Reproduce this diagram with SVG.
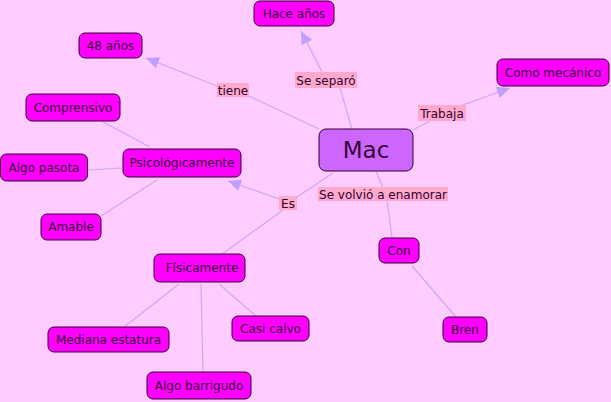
<svg xmlns="http://www.w3.org/2000/svg" width="611" height="402" viewBox="0 0 611 402">
<style>
.n rect{fill:#FF00FF;stroke:#330033;stroke-width:1}
.n text,.l text{font-family:"DejaVu Sans",Verdana,sans-serif;font-size:12px;fill:#330033;text-anchor:middle}
.l rect{fill:#FFAACC}
.c line{stroke:#C8AAF5;stroke-width:1.2;fill:none}
</style>
<defs>
<marker id="ar" markerUnits="userSpaceOnUse" markerWidth="14" markerHeight="12" refX="13" refY="6" orient="auto"><path d="M0,0 L13,6 L0,12 z" fill="#C0A0FF"/></marker>
</defs>
<rect width="611" height="402" fill="#FFCCFF"/>
<g id="connectors" class="c">
<line x1="352" y1="129" x2="340" y2="88"/>
<line x1="322" y1="72" x2="301" y2="31" marker-end="url(#ar)"/>
<line x1="319" y1="129" x2="249" y2="96"/>
<line x1="217" y1="86" x2="146" y2="58" marker-end="url(#ar)"/>
<line x1="413" y1="130" x2="430" y2="121"/>
<line x1="460" y1="106" x2="510" y2="88" marker-end="url(#ar)"/>
<line x1="376" y1="171" x2="383" y2="188"/>
<line x1="387" y1="200" x2="392" y2="238"/>
<line x1="412" y1="266" x2="456" y2="317"/>
<line x1="333" y1="173" x2="297" y2="197"/>
<line x1="279" y1="199" x2="228" y2="181" marker-end="url(#ar)"/>
<line x1="283" y1="210" x2="222" y2="254"/>
<line x1="150" y1="147" x2="103" y2="122"/>
<line x1="122" y1="168" x2="88" y2="170"/>
<line x1="157" y1="180" x2="101" y2="216"/>
<line x1="179" y1="284" x2="124" y2="327"/>
<line x1="201" y1="284" x2="203" y2="372"/>
<line x1="219" y1="284" x2="256" y2="316"/>
</g>
<g id="lbl-seseparo" class="l"><rect x="295" y="72" width="62" height="16"/><text x="326" y="84.5">Se separó</text></g>
<g id="lbl-tiene" class="l"><rect x="217" y="83" width="32" height="14"/><text x="233" y="94.5">tiene</text></g>
<g id="lbl-trabaja" class="l"><rect x="418" y="105" width="48" height="16"/><text x="442" y="117.5">Trabaja</text></g>
<g id="lbl-sevolvio" class="l"><rect x="318" y="187" width="130" height="14"/><text x="383" y="198.5">Se volvió a enamorar</text></g>
<g id="lbl-es" class="l"><rect x="279" y="196" width="18" height="14"/><text x="288" y="207.5">Es</text></g>
<g id="mac" class="n"><rect x="319" y="129" width="94" height="42" rx="7" style="fill:#CC66FF"/><text x="366" y="158" style="font-size:23px">Mac</text></g>
<g id="haceanos" class="n"><rect x="254" y="1" width="80" height="25" rx="6"/><text x="294" y="18">Hace años</text></g>
<g id="48anos" class="n"><rect x="79" y="33" width="63" height="25" rx="6"/><text x="110.5" y="50">48 años</text></g>
<g id="comomecanico" class="n"><rect x="497" y="59" width="112" height="27" rx="6"/><text x="553" y="77">Como mecánico</text></g>
<g id="comprensivo" class="n"><rect x="26" y="94" width="94" height="27" rx="6"/><text x="73" y="112">Comprensivo</text></g>
<g id="algopasota" class="n"><rect x="0.5" y="154" width="87" height="27" rx="6"/><text x="44" y="172">Algo pasota</text></g>
<g id="psicologicamente" class="n"><rect x="123" y="149" width="118" height="28" rx="6"/><text x="182" y="167">Psicológicamente</text></g>
<g id="amable" class="n"><rect x="41" y="214" width="60" height="26" rx="6"/><text x="71" y="231">Amable</text></g>
<g id="fisicamente" class="n"><rect x="154" y="254" width="91" height="28" rx="6"/><text x="202" y="272">Físicamente</text></g>
<g id="medianaestatura" class="n"><rect x="48" y="327" width="121" height="25" rx="6"/><text x="108.5" y="344">Mediana estatura</text></g>
<g id="casicalvo" class="n"><rect x="232" y="316" width="77" height="25" rx="6"/><text x="270.5" y="333">Casi calvo</text></g>
<g id="algobarrigudo" class="n"><rect x="147" y="372" width="104" height="27" rx="6"/><text x="199" y="390">Algo barrigudo</text></g>
<g id="con" class="n"><rect x="379" y="238" width="40" height="25" rx="6"/><text x="399" y="255">Con</text></g>
<g id="bren" class="n"><rect x="443" y="317" width="44" height="25" rx="6"/><text x="465" y="334">Bren</text></g>
</svg>
